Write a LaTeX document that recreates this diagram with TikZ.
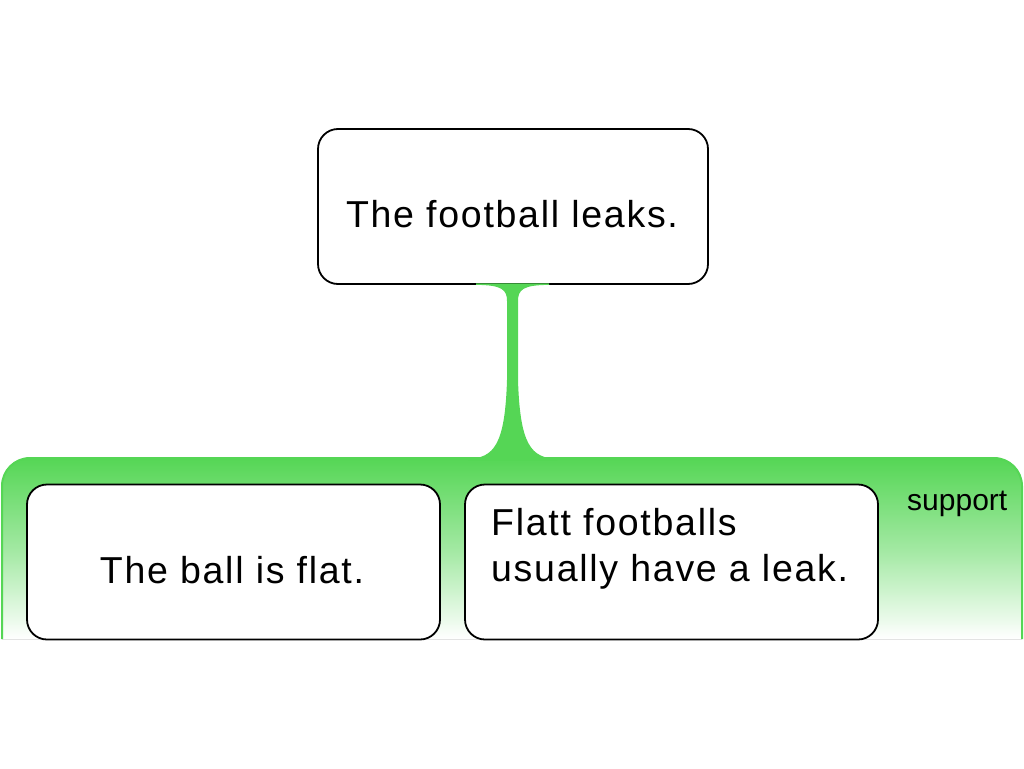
\documentclass[tikz,border=0pt]{standalone}
\usepackage{fontspec}
\newfontfamily\mainsans[LetterSpace=4.6]{Liberation Sans}
\newfontfamily\smallsans{Liberation Sans}
\definecolor{suppgreen}{RGB}{85,214,85}
\begin{document}
\begin{tikzpicture}[x=1pt,y=-1pt,
  argbox/.style={draw=black,line width=1.8pt,fill=white,rounded corners=20pt,
    minimum width=#1,minimum height=155pt,inner sep=0pt},
  argtext/.style={font=\mainsans\fontsize{37.5}{46.5}\selectfont,inner sep=0pt,anchor=base},
  supptext/.style={font=\smallsans\fontsize{30}{36}\selectfont,inner sep=0pt,anchor=base west},
  stemfill/.style={fill=suppgreen,draw=none},
  regionfill/.style={top color=suppgreen,bottom color=white,middle color=suppgreen!55!white,draw=none},
  regionedge/.style={draw=suppgreen,line width=2pt}]
\useasboundingbox (0,0) rectangle (1024,768);

% support region
\coordinate (grptop) at (512,458);
\fill[regionfill] (2,639) -- (2,486) arc[start angle=180,end angle=270,radius=28] -- (994,458)
  arc[start angle=270,end angle=360,radius=28] -- (1022,639) -- cycle;
\draw[regionedge] (2,639) -- (2,486) arc[start angle=180,end angle=270,radius=28] -- (994,458)
  arc[start angle=270,end angle=360,radius=28] -- (1022,639);

% claim
\node[argbox=390pt] (claim) at (513,206.5) {};
\node[argtext] (claimtxt) at (512,227) {The football leaks.};

% connector stem
\begin{scope}[shift={(claim.south)}]
\fill[stemfill] (-37,-1.5) -- (36,-1.5) -- (36,0) .. controls (10,0) and (5,5) .. (5,16)
  -- (5,95) .. controls (7,160) and (18,173) .. (44,174) -- (44,176) -- (-45,176) -- (-45,174)
  .. controls (-19,173) and (-8,160) .. (-6,95) -- (-6,16)
  .. controls (-6,5) and (-11,0) .. (-37,0) -- cycle;
\end{scope}

% premises
\node[argbox=413pt] (prem1) at (233.5,562) {};
\node[argtext] (prem1txt) at (232,583) {The ball is flat.};
\node[argbox=413pt] (prem2) at (671.5,562) {};
\node[argtext,anchor=base west] (prem2txta) at (491,535) {Flatt footballs};
\node[argtext,anchor=base west] (prem2txtb) at (491,581.5) {usually have a leak.};

\node[supptext] (supplabel) at (907,510.5) {support};
\end{tikzpicture}
\end{document}
